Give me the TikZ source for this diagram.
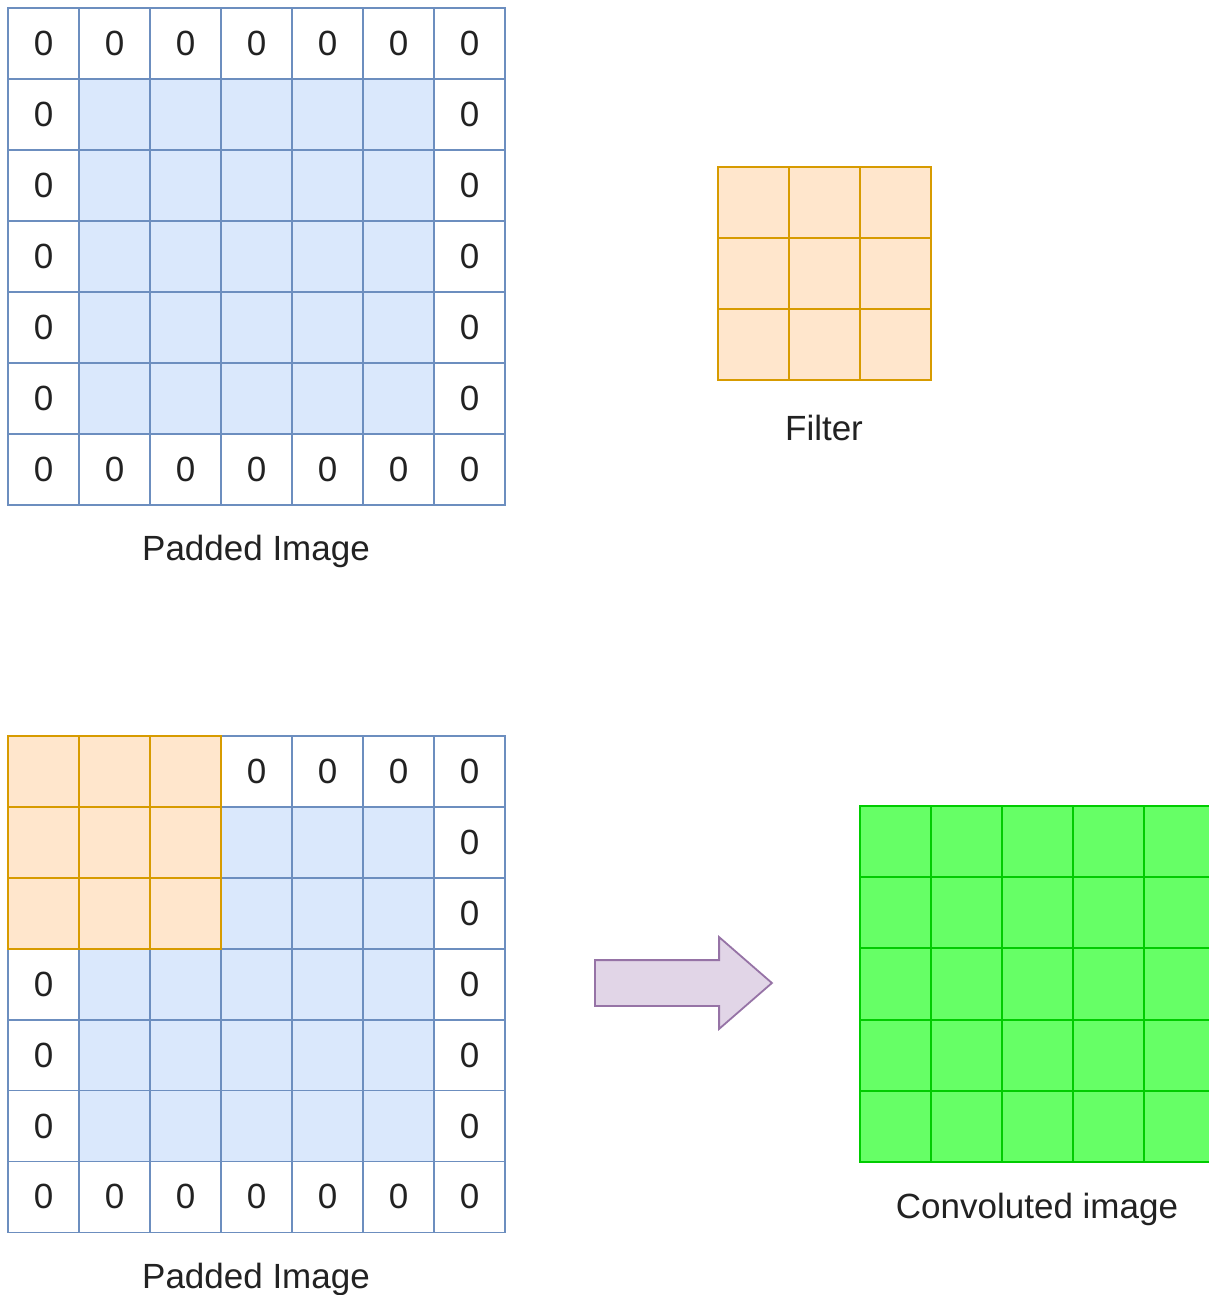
\documentclass[tikz,border=0pt]{standalone}
\usepackage{fontspec}
\setmainfont{Liberation Sans}
\usetikzlibrary{shapes.arrows, positioning}
\definecolor{imgFill}{HTML}{DAE8FC}
\definecolor{imgLine}{HTML}{6C8EBF}
\definecolor{filtFill}{HTML}{FFE6CC}
\definecolor{filtLine}{HTML}{D79B00}
\definecolor{outFill}{HTML}{66FF66}
\definecolor{outLine}{HTML}{00CC00}
\definecolor{arrFill}{HTML}{E1D5E7}
\definecolor{arrLine}{HTML}{9673A6}
\definecolor{txt}{HTML}{222222}

\begin{document}
\begin{tikzpicture}[x=1pt, y=-1pt, font=\fontsize{35}{42}\selectfont, text=txt, line width=1.8pt,
    cell/.style={draw, minimum size=71pt, inner sep=0pt, outer sep=0pt},
    pad/.style={cell, draw=imgLine, fill=white},
    inner/.style={cell, draw=imgLine, fill=imgFill},
    kernel/.style={cell, draw=filtLine, fill=filtFill},
    result/.style={cell, draw=outLine, fill=outFill}]
    \clip (0,0) rectangle (1209,1295);
    \fill[white] (0,0) rectangle (1209,1295);

    % padded image (top)
    \foreach \r in {0,...,6}
      \foreach \c in {0,...,6} {
        \pgfmathtruncatemacro\edge{(\r==0)||(\r==6)||(\c==0)||(\c==6)}
        \ifnum\edge=1
          \node[pad] (a-\r-\c) at ({43.5+71*\c},{43.5+71*\r}) {0};
        \else
          \node[inner] (a-\r-\c) at ({43.5+71*\c},{43.5+71*\r}) {};
        \fi
      }
    \node (a-label) at (256,551) {Padded Image};

    % filter
    \foreach \r in {0,1,2}
      \foreach \c in {0,1,2}
        \node[kernel] (f-\r-\c) at ({753.5+71*\c},{202.5+71*\r}) {};
    \node (f-label) at (824,428) {Filter};

    % padded image with filter on it (bottom)
    \foreach \r in {0,...,6}
      \foreach \c in {0,...,6} {
        \pgfmathtruncatemacro\edge{(\r==0)||(\r==6)||(\c==0)||(\c==6)}
        \pgfmathtruncatemacro\win{(\r<3)&&(\c<3)}
        \ifnum\win=0
          \ifnum\edge=1
            \node[pad] (b-\r-\c) at ({43.5+71*\c},{771.5+70.9*\r}) {0};
          \else
            \node[inner] (b-\r-\c) at ({43.5+71*\c},{771.5+70.9*\r}) {};
          \fi
        \fi
      }
    \foreach \r in {0,1,2}
      \foreach \c in {0,1,2}
        \node[kernel] (b-\r-\c) at ({43.5+71*\c},{771.5+70.9*\r}) {};
    \node (b-label) at (256,1279) {Padded Image};

    \node[single arrow, draw=arrLine, fill=arrFill, inner xsep=0pt, inner ysep=22pt,
          minimum height=177pt, minimum width=90pt, anchor=west,
          single arrow head extend=23pt, single arrow tip angle=82] (arrow) at (594,983) {};

    % convoluted image
    \foreach \r in {0,...,4}
      \foreach \c in {0,...,4}
        \node[result] (c-\r-\c) at ({895.5+71*\c},{841.5+71.2*\r}) {};
    \node (c-label) at (1037,1209) {Convoluted image};
\end{tikzpicture}
\end{document}
